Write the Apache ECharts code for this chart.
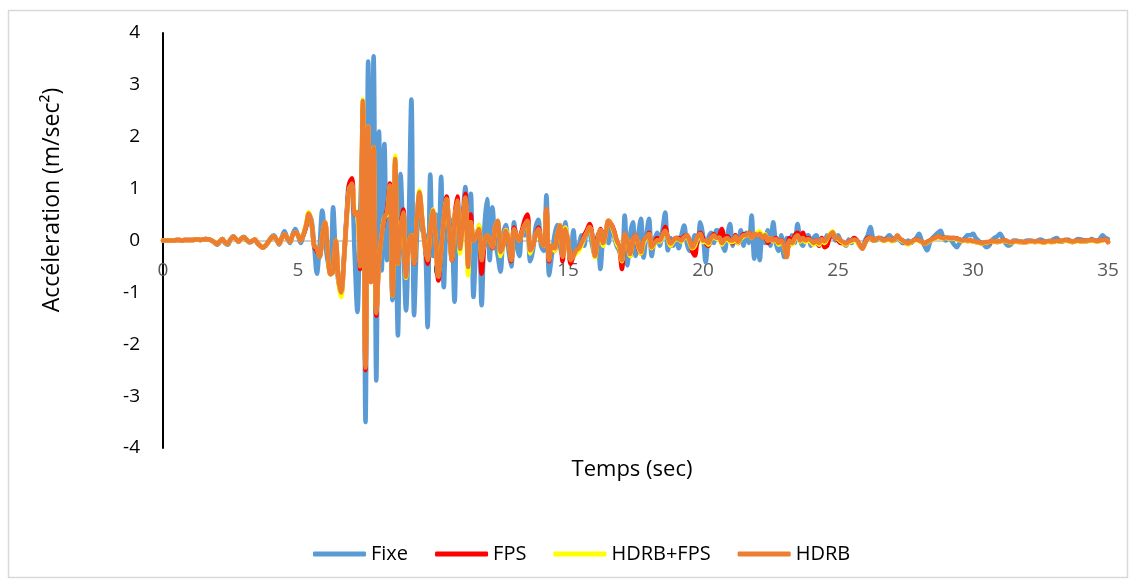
<!DOCTYPE html>
<html>
<head>
<meta charset="utf-8">
<script src="https://cdn.jsdelivr.net/npm/echarts@6/dist/echarts.min.js"></script>
<style>
  html, body { margin: 0; padding: 0; background: #ffffff; }
  #chart { width: 1135px; height: 583px; }
</style>
</head>
<body>
<div id="chart"></div>
<script>
// Sampling step of the acceleration records (s)
const DT = 0.1;

// Legend / series names
const seriesNames = ['Fixe', 'FPS', 'HDRB+FPS', 'HDRB'];

// Axis ticks
const xTicks = [0, 5, 10, 15, 20, 25, 30, 35];
const yTicks = [-4, -3, -2, -1, 0, 1, 2, 3, 4];

// Acceleration (m/sec²), one row per second, 10 samples per row
const fixe = [
  0,0,0,0,0,0.01,0.01,0,0.01,0.01,
  0.01,0.01,0.02,0.02,0.01,0.02,0.03,0.02,0,-0.04,
  -0.08,-0.03,0.03,-0.05,-0.08,0.02,0.08,0.03,-0.03,0.04,
  0.07,0.01,-0.04,-0.02,0.02,-0.06,-0.1,-0.14,-0.1,-0.02,
  0.06,0.1,0.02,-0.08,0.06,0.18,0.05,-0.05,0.12,0.22,
  0.1,-0.05,0.1,0.25,0.5,0.4,-0.1,-0.64,-0.1,0.58,
  0,-0.4,-0.6,0.64,-0.3,-0.8,-0.9,-0.3,0.5,1.1,
  1.0,-0.3,-1.38,0.5,2.0,-3.5,3.45,-0.5,3.55,-2.7,
  2.1,-0.58,1.86,-0.38,0.8,-1.15,0.3,-1.83,1.28,0,
  -1.35,0.3,2.72,-1.44,0,0.9,0.2,0.1,-1.67,1.27,
  -0.3,0.5,-0.2,1.23,-0.9,0.3,0.45,0.1,-1.18,0.3,
  0,0.5,1.03,-0.2,0.9,-1.09,-0.1,0.3,-1.25,0.2,
  0.8,-0.38,0.64,0,-0.3,-0.6,0.1,0.3,-0.2,-0.5,
  0.35,-0.1,-0.3,0.2,0.1,0.3,-0.4,-0.2,0.25,0.4,
  -0.1,-0.2,0.87,-0.67,-0.3,0.1,0.3,-0.1,-0.3,0.35,
  -0.1,-0.3,0.2,-0.2,-0.1,0.1,-0.1,0.2,0.15,-0.1,
  -0.3,0.1,-0.55,0.05,0.2,-0.05,0.3,0.1,-0.1,-0.2,
  -0.3,0.48,-0.48,0.1,0.35,-0.3,0.1,0.42,-0.33,0.1,
  0.42,-0.3,0,0.15,-0.1,0.2,0.54,-0.19,0.05,-0.1,
  0.05,-0.15,0.1,0.29,-0.05,-0.2,-0.1,0.1,-0.05,0.35,
  0.1,-0.42,0.05,0.15,-0.05,0.2,0.19,-0.05,-0.2,0.1,
  0.32,-0.1,0.1,-0.05,0.2,-0.1,0.15,-0.05,0.48,-0.35,
  0.1,-0.38,0.1,-0.05,0.2,-0.1,0.35,-0.05,-0.2,0.1,
  -0.32,0.05,-0.1,0.1,-0.05,0.32,0,-0.1,0.05,0.1,
  -0.1,0.05,0.1,-0.1,0.05,-0.03,0.1,0.05,0.15,0,
  0.1,0,-0.05,-0.1,0.02,-0.05,0.05,0,-0.1,-0.15,
  0,0.1,0.26,0.05,0,0.05,0.05,0,0.05,0.1,
  0.05,0,0.08,0,-0.05,-0.05,0,-0.05,0,0.05,
  0.13,0,-0.1,-0.19,-0.05,0.05,0.1,0.15,0.19,0.05,
  0,0.05,0,-0.08,-0.13,-0.05,0,0.05,0.1,0.1,
  0.13,0.05,0,-0.05,-0.08,-0.13,-0.1,0,0.05,0.08,
  0.13,0.05,-0.05,-0.1,-0.08,0,0,-0.02,-0.03,-0.02,
  0,0,-0.01,-0.02,0,0.02,0,-0.02,-0.01,0,
  0.03,0.05,0,-0.02,0,0.02,0,-0.03,0,0.03,
  0.02,0,-0.02,0,0.03,0,0,0.03,0.1,0.05,
  0.03
];

const fps = [
  0,0,0,0,0,0.01,0.01,0,0.01,0.01,
  0.01,0.01,0.02,0.02,0.01,0.02,0.03,0.02,0,-0.03,
  -0.07,-0.02,0.03,-0.04,-0.06,0.02,0.07,0.03,-0.02,0.04,
  0.06,0.01,-0.03,-0.01,0.02,-0.05,-0.1,-0.14,-0.1,-0.03,
  0.04,0.08,0.02,-0.06,0.05,0.12,0.04,-0.02,0.1,0.16,
  0.1,0,0.1,0.28,0.5,0.33,-0.12,-0.2,-0.3,0.1,
  0.35,-0.2,-0.65,-0.6,0,-0.75,-1.02,-0.4,0.45,1.1,
  1.2,0.5,0.5,-0.55,2.6,-2.5,2.15,-0.8,1.75,-1.45,
  -0.4,0.1,0.4,0.6,1.1,-1.05,1.5,-0.45,0.2,0.6,
  -0.65,-0.1,0.1,-0.45,0.4,0.9,0.4,-0.1,-0.45,0.2,
  0.55,0,-0.77,-0.2,0.4,0.85,0.2,-0.38,0.45,0.85,
  -0.1,0.3,0.9,-0.45,0.5,0,0.1,0.25,-0.64,-0.1,
  0.1,0,-0.15,0.25,0.35,-0.25,-0.1,0.2,0,-0.4,
  0.25,0.1,0,0.2,0.4,0.5,-0.2,-0.1,0.1,0.25,
  0,-0.1,0.6,-0.4,-0.1,-0.2,0.1,0.3,-0.4,0.2,
  0,-0.45,-0.3,-0.2,-0.15,-0.05,0.1,0.2,0.32,0.1,
  -0.3,0.05,0.22,-0.05,0.15,0.38,0.32,0.2,0,-0.15,
  -0.55,0.1,0,-0.3,0,0.1,-0.15,-0.25,0,0.05,
  0.15,-0.15,-0.05,0.05,0,0.1,0.26,0.05,-0.1,0,
  0.05,0.05,0,0.08,0.1,0,-0.2,-0.29,0.05,0.15,
  0.05,-0.05,-0.1,0.05,0.12,0.05,0.1,0.22,0.05,0.08,
  0,-0.05,0.1,-0.05,0.05,0.12,0.1,0.15,0.05,0.1,
  0.12,0.15,0.05,0.1,-0.05,0.05,0,0.05,-0.05,0,
  -0.1,-0.3,0.05,-0.05,0.1,0.15,0.05,0.15,0,0.05,
  0,-0.05,0,-0.1,0.05,-0.13,-0.1,0.1,0.15,0.05,
  0,-0.05,-0.05,-0.08,-0.02,0,0.05,0,-0.08,-0.15,
  -0.05,0.05,0.06,0,0.03,0.05,0.02,0,0.03,0.02,
  0,0.03,0.08,0.03,0,-0.05,-0.06,-0.04,0,0.02,
  0,-0.03,-0.06,-0.03,0,0.03,0.05,0.08,0.06,0.05,
  0.05,0.05,0.05,0.05,0.04,0.02,0,0.01,-0.01,0,
  -0.02,-0.03,-0.04,-0.05,-0.05,-0.04,-0.04,-0.02,-0.02,-0.03,
  -0.02,0,0,-0.03,-0.04,-0.03,-0.02,-0.03,-0.03,-0.04,
  -0.03,-0.02,-0.02,-0.03,-0.02,-0.02,-0.04,-0.03,-0.02,-0.03,
  -0.02,0,-0.02,-0.01,0.01,0,-0.02,-0.03,-0.01,0,
  -0.02,-0.01,0,0,0.01,0,-0.02,0,0.01,0.02,
  -0.03
];

const hdrbFps = [
  0,0,0,0,0,0.01,0.01,0,0.01,0.01,
  0.01,0.01,0.02,0.02,0.01,0.02,0.03,0.02,0,-0.03,
  -0.07,-0.02,0.03,-0.04,-0.06,0.02,0.07,0.03,-0.02,0.04,
  0.06,0.01,-0.03,-0.01,0.02,-0.05,-0.1,-0.14,-0.1,-0.03,
  0.04,0.08,0.02,-0.06,0.05,0.12,0.04,-0.02,0.1,0.16,
  0.1,0,0.12,0.32,0.55,0.35,-0.1,-0.15,-0.3,0.1,
  0.35,-0.2,-0.65,-0.6,0,-0.8,-1.09,-0.4,0.4,1,
  1.05,0.55,0.5,-0.45,2.72,-2.4,2.2,-0.75,1.8,-1.35,
  -0.4,0.1,0.45,0.5,1.05,-1.06,1.63,-0.45,0.2,0.5,
  -0.72,-0.1,0.1,-0.42,0.4,0.97,0.4,-0.1,-0.35,0.2,
  0.6,0,-0.65,-0.2,0.4,0.8,0.2,-0.35,0.4,0.7,
  -0.25,0.3,0.8,-0.67,0.35,0,0.1,0.3,-0.3,-0.05,
  0.1,0,-0.13,0.25,0.38,-0.3,-0.1,0.2,0,-0.35,
  0.2,0.1,0,0.15,0.3,0.35,-0.25,-0.1,0.1,0.2,
  0,-0.1,0.58,-0.35,-0.1,-0.2,0.1,0.3,-0.3,0.25,
  0,-0.35,-0.3,-0.25,-0.2,-0.1,0.05,0.15,0.25,0.05,
  -0.33,0,0.2,-0.1,0.15,0.38,0.3,0.15,-0.05,-0.15,
  -0.4,0.1,0,-0.3,0,0.08,-0.12,-0.25,-0.05,0.05,
  0.12,-0.15,-0.08,0,-0.02,0.08,0.18,0.03,-0.1,-0.02,
  0.03,0.02,-0.02,0.05,0.08,-0.03,-0.15,-0.1,0.05,0.1,
  -0.03,-0.03,-0.08,0.03,0.08,0.03,0.05,-0.08,0,0.03,
  -0.03,-0.03,0.05,-0.05,0.03,0.08,0.1,0.12,0.05,0.12,
  0.15,0.18,0.08,0.12,0,0.05,-0.02,0.02,-0.08,-0.02,
  -0.12,-0.3,-0.02,-0.08,0.03,0.08,-0.02,0.03,-0.03,0,
  -0.03,-0.08,-0.02,-0.08,0.02,-0.05,0.03,0.12,0.18,0.05,
  0.03,-0.02,-0.05,-0.08,-0.04,-0.02,0,-0.02,-0.1,-0.15,
  -0.05,0.02,0.05,0,0.02,0.04,0.02,-0.01,0.01,0.02,
  -0.02,0.01,0.08,0.02,-0.01,-0.04,-0.08,-0.03,-0.01,0.01,
  -0.01,-0.03,-0.06,-0.04,-0.01,0.02,0.04,0.07,0.05,0.04,
  0.05,0.04,0.03,0.04,0.02,0.01,-0.01,0,-0.01,-0.01,
  -0.02,-0.03,-0.04,-0.06,-0.05,-0.04,-0.03,-0.01,-0.03,-0.03,
  -0.02,-0.01,-0.01,-0.03,-0.04,-0.03,-0.02,-0.03,-0.03,-0.04,
  -0.03,-0.02,-0.02,-0.03,-0.02,-0.03,-0.04,-0.03,-0.02,-0.03,
  -0.03,-0.01,-0.02,-0.01,0,-0.01,-0.02,-0.03,-0.02,-0.01,
  -0.02,-0.02,-0.01,-0.01,0,-0.01,-0.02,-0.01,0,0.01,
  -0.02
];

const hdrb = [
  0,0,0,0,0,0.01,0.01,0,0.01,0.01,
  0.01,0.01,0.02,0.02,0.01,0.02,0.03,0.02,0,-0.03,
  -0.07,-0.02,0.03,-0.04,-0.06,0.02,0.07,0.03,-0.02,0.04,
  0.06,0.01,-0.03,-0.01,0.02,-0.05,-0.1,-0.14,-0.1,-0.03,
  0.04,0.08,0.02,-0.06,0.05,0.12,0.04,-0.02,0.1,0.16,
  0.1,0,0.12,0.3,0.52,0.35,-0.1,-0.15,-0.32,0.1,
  0.35,-0.2,-0.65,-0.6,0,-0.75,-1,-0.4,0.4,1,
  1.1,0.5,0.55,-0.5,2.69,-2.45,2.2,-0.8,1.8,-1.4,
  -0.4,0.1,0.45,0.55,1.06,-1.06,1.57,-0.45,0.2,0.54,
  -0.7,-0.1,0.1,-0.45,0.4,0.93,0.4,-0.1,-0.38,0.2,
  0.58,0,-0.7,-0.2,0.4,0.8,0.2,-0.38,0.4,0.77,
  -0.16,0.3,0.83,-0.51,0.35,0,0.1,0.22,-0.38,-0.05,
  0.1,0,-0.13,0.25,0.38,-0.22,-0.1,0.19,0,-0.38,
  0.22,0.1,0,0.15,0.3,0.38,-0.19,-0.1,0.1,0.22,
  0,-0.1,0.61,-0.38,-0.1,-0.15,0.1,0.29,-0.32,0.22,
  0,-0.38,-0.3,-0.19,-0.15,-0.05,0.06,0.15,0.26,0.1,
  -0.3,0,0.2,-0.05,0.15,0.38,0.3,0.19,0,-0.1,
  -0.38,0.13,0,-0.26,0,0.1,-0.1,-0.22,0,0.06,
  0.13,-0.13,-0.05,0,0,0.1,0.19,0.05,-0.06,0,
  0.05,0.03,0,0.06,0.1,0,-0.13,-0.05,0.08,0.13,
  0,0,-0.05,0.05,0.1,0.05,0.06,-0.05,0.02,0.05,
  0,0,0.08,-0.03,0.05,0.1,0.1,0.15,0.05,0.13,
  0.1,0.13,0.05,0.1,0,0.05,0,0.03,-0.05,0,
  -0.1,-0.32,0,-0.05,0.05,0.1,0,0.05,0,0.03,
  0,-0.05,0,-0.05,0.03,-0.02,0.05,0.1,0.16,0.05,
  0.05,0,-0.03,-0.06,-0.02,0,0.02,0,-0.08,-0.16,
  -0.05,0.03,0.06,0,0.02,0.05,0.03,0,0.02,0.03,
  0,0.02,0.1,0.03,0,-0.03,-0.06,-0.02,0,0.02,
  0,-0.02,-0.06,-0.03,0,0.03,0.05,0.08,0.06,0.05,
  0.06,0.05,0.04,0.05,0.03,0.02,0,0.01,0,0,
  -0.01,-0.02,-0.03,-0.05,-0.04,-0.03,-0.02,0,-0.02,-0.02,
  -0.01,0,0,-0.02,-0.03,-0.02,-0.01,-0.02,-0.02,-0.03,
  -0.02,-0.01,-0.01,-0.02,-0.01,-0.02,-0.03,-0.02,-0.01,-0.02,
  -0.02,0,-0.01,0,0.01,0,-0.01,-0.02,-0.01,0,
  -0.01,-0.01,0,0,0.01,0,-0.01,0,0.01,0.02,
  -0.02
];

const colors = ['#5B9BD5', '#FF0000', '#FFFF00', '#ED7D31'];
const valueSets = [fixe, fps, hdrbFps, hdrb];

// Pair each sample with its time stamp
const toPairs = vals => vals.map((v, i) => [Math.round(i * DT * 10) / 10, v]);

const chart = echarts.init(document.getElementById('chart'), null, { renderer: 'canvas' });

const FONT = '"Open Sans", "Liberation Sans", sans-serif';

// Plot area (px)
const PLOT_TOP = 33, PLOT_BOTTOM = 448;
const zeroY = PLOT_TOP + (PLOT_BOTTOM - PLOT_TOP) * (yTicks[yTicks.length - 1] / (yTicks[yTicks.length - 1] - yTicks[0]));

chart.setOption({
  animation: false,
  backgroundColor: '#ffffff',
  grid: { left: 163, right: 27, top: PLOT_TOP, bottom: 583 - PLOT_BOTTOM, containLabel: false },
  xAxis: {
    type: 'value',
    position: 'bottom',
    // time axis drawn through y = 0
    offset: -(PLOT_BOTTOM - zeroY),
    min: xTicks[0],
    max: xTicks[xTicks.length - 1],
    interval: 5,
    axisLine: { onZero: false, lineStyle: { color: '#bfbfbf', width: 1.5 } },
    axisTick: { show: false },
    splitLine: { show: false },
    axisLabel: { color: '#595959', fontSize: 19, fontFamily: FONT, margin: 21 }
  },
  yAxis: {
    type: 'value',
    min: yTicks[0],
    max: yTicks[yTicks.length - 1],
    interval: 1,
    axisLine: { show: true, onZero: false, lineStyle: { color: '#000000', width: 2 } },
    axisTick: { show: false },
    splitLine: { show: false },
    axisLabel: { color: '#000000', fontSize: 19, fontFamily: FONT, margin: 23 }
  },
  legend: {
    left: 308,
    top: 539,
    itemWidth: 53,
    itemHeight: 5,
    itemGap: 27,
    itemTextGap: 5,
    icon: 'roundRect',
    textStyle: { color: '#000000', fontSize: 20, fontFamily: FONT },
    data: seriesNames
  },
  graphic: [
    {
      type: 'rect',
      shape: { x: 8.5, y: 10.5, width: 1119, height: 567 },
      style: { fill: 'none', stroke: '#d9d9d9', lineWidth: 1.5 },
      silent: true, z: -1
    },
    {
      type: 'text',
      x: 632,
      y: 470,
      style: { text: 'Temps (sec)', fill: '#000000', font: '22px ' + FONT, textAlign: 'center', textVerticalAlign: 'middle' }
    },
    {
      type: 'text',
      x: 52,
      y: 200,
      rotation: Math.PI / 2,
      style: { text: 'Accéleration (m/sec²)', fill: '#000000', font: '23px ' + FONT, textAlign: 'center', textVerticalAlign: 'middle' }
    }
  ],
  series: seriesNames.map((name, k) => ({
    name,
    type: 'line',
    data: toPairs(valueSets[k]),
    smooth: 0.35,
    showSymbol: false,
    symbol: 'none',
    lineStyle: { color: colors[k], width: 4.5, cap: 'round', join: 'round' },
    itemStyle: { color: colors[k] },
    z: 2 + k
  }))
});
</script>
</body>
</html>
